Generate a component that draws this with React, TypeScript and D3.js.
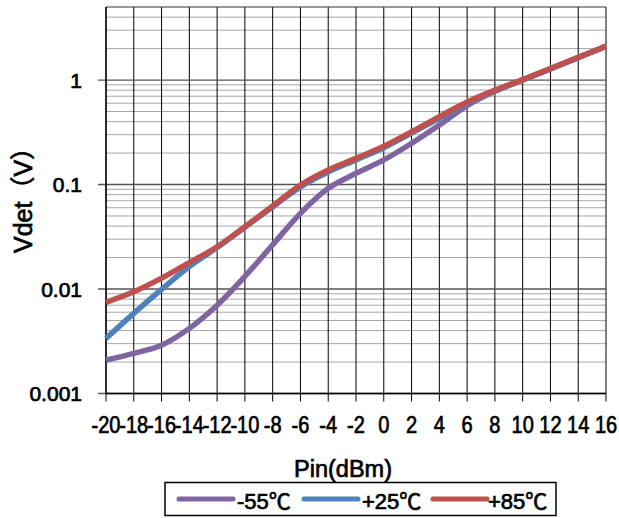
import React from "react";
import * as d3 from "d3";

const pin = [-20, -18, -16, -14, -12, -10, -8, -6, -4, -2, 0, 2, 4, 6, 8, 10, 12, 14, 16];
const vMinus55 = [0.00209, 0.00242, 0.0029, 0.0042, 0.0070, 0.0132, 0.0265, 0.053, 0.092, 0.128, 0.172, 0.248, 0.371, 0.57, 0.78, 1.0, 1.28, 1.64, 2.1];
const vPlus25 = [0.00337, 0.00585, 0.0099, 0.0164, 0.025, 0.039, 0.061, 0.095, 0.132, 0.172, 0.225, 0.31, 0.43, 0.6, 0.79, 1.0, 1.28, 1.64, 2.1];
const vPlus85 = [0.00745, 0.0094, 0.0127, 0.0179, 0.0254, 0.0395, 0.0623, 0.099, 0.138, 0.178, 0.233, 0.32, 0.446, 0.615, 0.8, 1.01, 1.29, 1.65, 2.11];
const seriesNames = ["-55℃", "+25℃", "+85℃"];
const seriesColors = ["#8064A2", "#4F81BD", "#C0504D"];
const yTickLabels = ["0.001", "0.01", "0.1", "1"];
const xTicks = [-20, -18, -16, -14, -12, -10, -8, -6, -4, -2, 0, 2, 4, 6, 8, 10, 12, 14, 16];

const FONT = "'Liberation Sans', Arial, 'Noto Sans CJK SC', sans-serif";
const heavy = { stroke: "#000", strokeWidth: 0.7, paintOrder: "stroke" as const };

export default function App() {
  const L = 106, R = 606, T = 7, B = 393.5;
  const x = d3.scaleLinear().domain([-20, 16]).range([L, R]);
  const y = d3.scaleLog().domain([0.001, 5]).range([B, T]);
  const series = [vMinus55, vPlus25, vPlus85];
  const line = d3
    .line<number>()
    .x((_, i) => x(pin[i]))
    .y((d) => y(d))
    .curve(d3.curveCatmullRom.alpha(0.5));

  const minors: number[] = [];
  [0.001, 0.01, 0.1, 1].forEach((dec) => {
    for (let k = 2; k <= 9; k++) {
      const v = dec * k;
      if (v < 5) minors.push(v);
    }
  });
  const majors = [0.001, 0.01, 0.1, 1];

  const legendItems = [
    { lx: 179, tx: 237 },
    { lx: 304, tx: 362 },
    { lx: 433, tx: 488 },
  ];

  return (
    <svg width={619} height={518} style={{ position: "absolute", left: 0, top: 0, background: "#fff" }}>
      <rect x={0} y={0} width={619} height={518} fill="#fff" />
      {minors.map((v, i) => (
        <line key={"mn" + i} x1={L} x2={R} y1={y(v)} y2={y(v)} stroke="#a6a6a6" strokeWidth={1} />
      ))}
      {xTicks.map((t) => (
        <line key={"vx" + t} x1={x(t)} x2={x(t)} y1={T} y2={B} stroke="#000" strokeWidth={1} />
      ))}
      {majors.map((v, i) => (
        <line key={"mj" + i} x1={L - 8} x2={R} y1={y(v)} y2={y(v)} stroke="#555" strokeWidth={1.3} />
      ))}
      <line x1={L} x2={R} y1={T} y2={T} stroke="#333" strokeWidth={1} />
      <line x1={L} x2={L} y1={T} y2={B} stroke="#000" strokeWidth={1.3} />
      <line x1={L} x2={R} y1={B} y2={B} stroke="#000" strokeWidth={1.5} />
      {xTicks.map((t) => (
        <line key={"tx" + t} x1={x(t)} x2={x(t)} y1={B} y2={B + 8} stroke="#000" strokeWidth={1} />
      ))}
      {series.map((s, i) => (
        <path key={"s" + i} d={line(s) || ""} fill="none" stroke={seriesColors[i]} strokeWidth={5.5} strokeLinejoin="round" />
      ))}
      {majors.map((v, i) => (
        <text key={"yl" + i} x={82} y={y(v)} textAnchor="end" dominantBaseline="central" fontFamily={FONT} fontSize={21} fill="#000" {...heavy}>
          {yTickLabels[i]}
        </text>
      ))}
      {xTicks.map((t) => (
        <g key={"xl" + t} transform={`translate(${x(t)},433) scale(0.87,1)`}>
          <text x={0} y={0} textAnchor="middle" fontFamily={FONT} fontSize={23} fill="#000" {...heavy}>
            {String(t)}
          </text>
        </g>
      ))}
      <text x={343} y={477} textAnchor="middle" fontFamily={FONT} fontSize={23.5} fill="#000" {...heavy}>
        Pin(dBm)
      </text>
      <text transform={`translate(32,194) rotate(-90)`} textAnchor="middle" fontFamily={FONT} fontSize={25} fill="#000" {...heavy}>
        Vdet（V）
      </text>
      <rect x={165} y={482.5} width={391} height={33} fill="#fff" stroke="#000" strokeWidth={1.5} />
      {legendItems.map((it, i) => (
        <g key={"lg" + i}>
          <line x1={it.lx} x2={it.lx + 54} y1={499} y2={499} stroke={seriesColors[i]} strokeWidth={5} strokeLinecap="round" />
          <text x={it.tx} y={509} fontFamily={FONT} fontSize={22} fill="#000" {...heavy}>
            {seriesNames[i]}
          </text>
        </g>
      ))}
    </svg>
  );
}
